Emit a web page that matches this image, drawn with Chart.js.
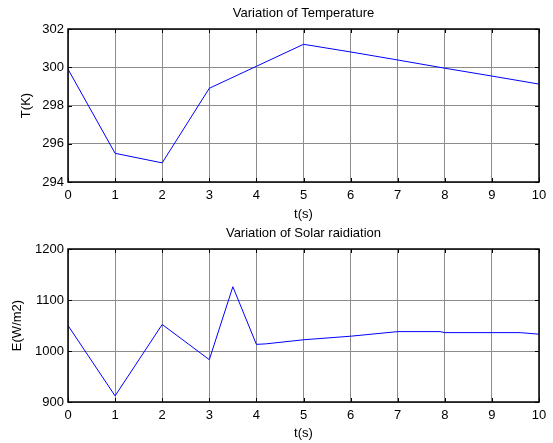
<!DOCTYPE html>
<html>
<head>
<meta charset="utf-8">
<script src="https://cdn.jsdelivr.net/npm/chart.js@4"></script>
<style>
  body { margin:0; background:#fff; }
  .box { position:absolute; left:0; width:553px; }
</style>
</head>
<body>
<div class="box" style="top:0; height:222px"><canvas id="temp"></canvas></div>
<div class="box" style="top:220px; height:223px"><canvas id="solar"></canvas></div>
<script>
const tempTime = [0, 1, 2, 3, 4, 5, 6, 7, 8, 9, 10];
const tempValues = [299.9, 295.5, 295.0, 298.9, 300.05, 301.2, 300.8, 300.38, 299.95, 299.54, 299.12];
const tempTicks = [294, 296, 298, 300, 302];

const solarTime = [0, 1, 2, 3, 3.5, 4, 4.2, 5, 6, 7, 7.9, 8, 9, 9.6, 10];
const solarValues = [1050, 912, 1052, 983, 1126, 1013, 1014, 1022, 1029, 1038, 1038, 1036, 1036, 1036, 1033];
const solarTicks = [900, 1000, 1100, 1200];

const font = { family: 'Arial, "Liberation Sans", sans-serif', size: 13 };
Chart.defaults.font = font;
Chart.defaults.color = '#000';

// box around the plot area plus inward ticks on all sides, like matlab axes
const boxPlugin = {
  id: 'box',
  afterDraw(chart, args, opts) {
    const { ctx, chartArea: a, scales } = chart;
    ctx.save();
    ctx.strokeStyle = '#000';
    ctx.lineWidth = 1;
    ctx.beginPath();
    scales.x.ticks.forEach(t => {
      const px = Math.round(scales.x.getPixelForValue(t.value)) + 0.5;
      ctx.moveTo(px, a.top); ctx.lineTo(px, a.top + 4);
      ctx.moveTo(px, a.bottom); ctx.lineTo(px, a.bottom - 4);
    });
    scales.y.ticks.forEach(t => {
      const py = Math.round(scales.y.getPixelForValue(t.value)) + 0.5;
      ctx.moveTo(a.right, py); ctx.lineTo(a.right - 4, py);
      ctx.moveTo(a.left, py); ctx.lineTo(a.left + 4, py);
    });
    ctx.stroke();
    ctx.lineWidth = 1.5;
    ctx.strokeRect(a.left, a.top, a.right - a.left, a.bottom - a.top);
    ctx.font = '13px Arial, "Liberation Sans", sans-serif';
    ctx.fillStyle = '#000';
    ctx.textAlign = 'center';
    ctx.textBaseline = 'middle';
    ctx.fillText(opts.text, (a.left + a.right) / 2, opts.y);
    ctx.restore();
  }
};

function makeChart(id, xs, ys, ticks, yLabel, title, opt) {
  const yMin = ticks[0], yMax = ticks[ticks.length - 1];
  return new Chart(document.getElementById(id), {
    type: 'line',
    data: {
      datasets: [{
        data: xs.map((x, i) => ({ x, y: ys[i] })),
        borderColor: '#0000ff',
        borderWidth: 1,
        pointRadius: 0,
        tension: 0,
        fill: false
      }]
    },
    options: {
      responsive: true,
      maintainAspectRatio: false,
      animation: false,
      events: [],
      layout: { padding: { left: opt.left, right: 14, top: 29, bottom: opt.bottom } },
      plugins: {
        legend: { display: false },
        tooltip: { enabled: false },
        box: { text: title, y: 13 }
      },
      scales: {
        x: {
          type: 'linear', min: 0, max: 10,
          ticks: { stepSize: 1, padding: 6, maxRotation: 0 },
          grid: { color: '#8c8c8c', drawTicks: false },
          border: { display: false },
          title: { display: true, text: 't(s)', padding: { top: 0, bottom: 0 } },
          afterFit(s) { s.height = opt.xHeight; }
        },
        y: {
          min: yMin, max: yMax,
          afterBuildTicks(s) { s.ticks = ticks.map(v => ({ value: v })); },
          ticks: { padding: 4, callback: v => String(v) },
          grid: { color: '#8c8c8c', drawTicks: false },
          border: { display: false },
          title: { display: true, text: yLabel, padding: { top: 0, bottom: 0 } },
          afterFit(s) { s.width = 68 - opt.left; }
        }
      }
    },
    plugins: [boxPlugin]
  });
}

makeChart('temp', tempTime, tempValues, tempTicks, 'T(K)', 'Variation of Temperature',
  { left: 19, bottom: 0, xHeight: 40 });
makeChart('solar', solarTime, solarValues, solarTicks, 'E(W/m2)', 'Variation of Solar raidiation',
  { left: 10, bottom: 2, xHeight: 39 });
</script>
</body>
</html>
